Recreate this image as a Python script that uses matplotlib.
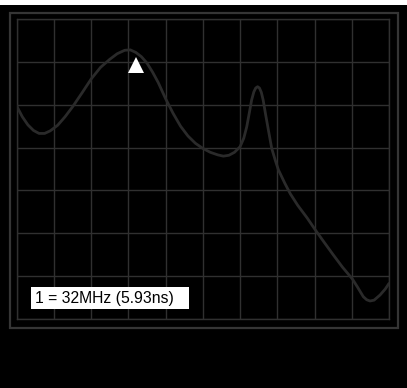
import numpy as np
import matplotlib
matplotlib.use('Agg')
import matplotlib.pyplot as plt
from matplotlib.patches import Rectangle

# trace, in grid divisions (10 x 7)
freq_div = [0.0, 0.15, 0.3, 0.45, 0.6, 0.75, 0.9, 1.1, 1.3, 1.5, 1.75, 2.0, 2.25,
            2.5, 2.7, 2.9, 3.05, 3.2, 3.35, 3.5, 3.65, 3.8, 4.0, 4.2, 4.4, 4.6,
            4.8, 5.0, 5.2, 5.4, 5.55, 5.7, 5.85, 6.0, 6.1, 6.18, 6.25, 6.31, 6.37,
            6.42, 6.47, 6.52, 6.57, 6.62, 6.68, 6.76, 6.85, 6.95, 7.03, 7.2, 7.35,
            7.55, 7.8, 8.02, 8.25, 8.5, 8.75, 9.02, 9.15, 9.31, 9.4, 9.49, 9.6,
            9.76, 9.9, 10.0]
level_div = [4.97, 4.72, 4.53, 4.40, 4.33, 4.33, 4.39, 4.52, 4.72, 4.95, 5.27, 5.6,
             5.87, 6.06, 6.19, 6.27, 6.28, 6.22, 6.12, 5.97, 5.76, 5.52, 5.14, 4.80,
             4.50, 4.27, 4.10, 3.98, 3.89, 3.83, 3.80, 3.82, 3.89, 4.02, 4.22, 4.49,
             4.82, 5.11, 5.30, 5.39, 5.42, 5.39, 5.29, 5.11, 4.80, 4.41, 3.98, 3.69,
             3.48, 3.17, 2.92, 2.65, 2.36, 2.08, 1.80, 1.50, 1.21, 0.93, 0.75, 0.52,
             0.45, 0.42, 0.44, 0.56, 0.70, 0.83]
marker_x = 3.2
marker_y = 5.92
marker_label = '1 = 32MHz (5.93ns)'

W, H = 407, 388
fig = plt.figure(figsize=(W / 100, H / 100), dpi=100, facecolor='black')

# white strip along the very top
fig.patches.append(Rectangle((0, 1 - 5 / H), 1, 5 / H, transform=fig.transFigure,
                             facecolor='white', edgecolor='none'))
# outer bezel
fig.patches.append(Rectangle((10 / W, 1 - 328 / H), 388 / W, 315 / H,
                             transform=fig.transFigure, facecolor='none',
                             edgecolor='#353535', lw=1.6))

ax = fig.add_axes([16.7 / W, 1 - 319 / H, 372.3 / W, 300 / H])
ax.set_facecolor('black')
ax.set_xlim(0, 10)
ax.set_ylim(0, 7)
ax.set_xticks(np.arange(0, 11))
ax.set_yticks(np.arange(0, 8))
ax.grid(True, color='#303030', lw=1.0)
ax.tick_params(length=0, labelbottom=False, labelleft=False)
for s in ax.spines.values():
    s.set_color('#303030')
    s.set_linewidth(1.0)

ax.plot(freq_div, level_div, color='#2a2a2a', lw=2.0, solid_joinstyle='round',
        solid_capstyle='round', zorder=3)
ax.plot([marker_x], [marker_y], marker='^', color='white', markersize=11,
        markeredgewidth=0, zorder=4)

# readout box
fig.patches.append(Rectangle((31 / W, 1 - 309 / H), 158 / W, 22.3 / H,
                             transform=fig.transFigure, facecolor='white',
                             edgecolor='none', zorder=5))
fig.text(35 / W, 1 - 298 / H, marker_label, color='black', fontsize=11.3,
         family='Liberation Sans', va='center', ha='left', zorder=6)

fig.savefig('out.png', dpi=100, facecolor='black')
